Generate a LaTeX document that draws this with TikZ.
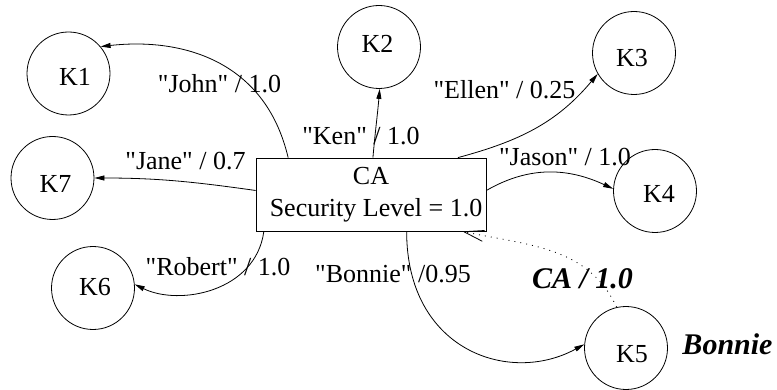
\documentclass[tikz,border=0pt]{standalone}
\usepackage{fontspec}
\setmainfont{Liberation Serif}[Ligatures=TeXOff]
\usetikzlibrary{arrows.meta}

\begin{document}
\begin{tikzpicture}[x=1pt,y=1pt,
  every node/.style={font=\fontsize{26}{32}\selectfont},
  key/.style={circle,draw,line width=0.8pt,minimum size=83pt,inner sep=0pt},
  lbl/.style={anchor=base,inner sep=0pt},
  link/.style={line width=0.8pt,-{Triangle[length=10pt,width=5pt]}},
  trust/.style={line width=0.8pt,dash pattern=on 1pt off 5pt,
                -{Straight Barb[length=20pt,width=11pt,line width=0.8pt]}},
  strong/.style={font=\fontsize{30}{36}\selectfont\bfseries\itshape}
]
\useasboundingbox (0,0) rectangle (777,-390);

% certificate authority
\node[draw,line width=0.8pt,minimum width=230pt,minimum height=73pt,
      inner sep=0pt,align=center] (ca) at (371,-194.5)
      {CA\\\hspace*{10pt}Security Level = 1.0};

% key circles
\node[key] (k1) at (68.5,-73.5) {};
\node[key] (k2) at (379,-47) {};
\node[key] (k3) at (634,-53) {};
\node[key] (k4) at (655,-191) {};
\node[key] (k5) at (626,-348) {};
\node[key] (k6) at (93,-288) {};
\node[key] (k7) at (52.5,-178) {};

% key names
\node[lbl] (t1) at (75,-86) {K1};
\node[lbl] (t2) at (377.5,-53) {K2};
\node[lbl] (t3) at (632,-67) {K3};
\node[lbl] (t4) at (659,-203) {K4};
\node[lbl] (t5) at (632,-362) {K5};
\node[lbl] (t6) at (95,-296) {K6};
\node[lbl] (t7) at (55.5,-193) {K7};

% bindings issued by the CA
\draw[link] (ca.156) .. controls +(-23,98) and +(80,9) .. (k1.40);
\draw[link] (ca.87) to[out=85,in=-95] (k2.271);
\draw[link] (ca.23) to[out=15,in=230] (k3.210);
\draw[link] (ca.2) to[out=30,in=155] (k4.177);
\draw[link] (ca.178) to[out=172,in=0] (k7.0);
\draw[link] (ca.199) .. controls +(-8,-60) and +(45,-22) .. (k6.5);
\draw[link] (ca.314) .. controls +(0,-119) and +(-75,-41) .. (k5.175);

% Bonnie's signature on the CA
\draw[trust] (k5.103) to[out=115,in=-12] (ca.338);

% binding labels
\node[lbl] (ljohn) at (219.5,-93) {"John" / 1.0};
\node[lbl] (lken) at (361,-145) {"Ken" / 1.0};
\node[lbl] (lellen) at (504.5,-99) {"Ellen" / 0.25};
\node[lbl] (ljason) at (565,-166) {"Jason" / 1.0};
\node[lbl] (ljane) at (185.5,-170) {"Jane" / 0.7};
\node[lbl] (lrobert) at (218,-276) {"Robert" / 1.0};
\node[lbl] (lbonnie) at (393,-283) {"Bonnie" /0.95};
\node[lbl,strong] (lcert) at (582.5,-289) {CA / 1.0};
\node[lbl,strong] (lowner) at (727.5,-355) {Bonnie};
\end{tikzpicture}
\end{document}
